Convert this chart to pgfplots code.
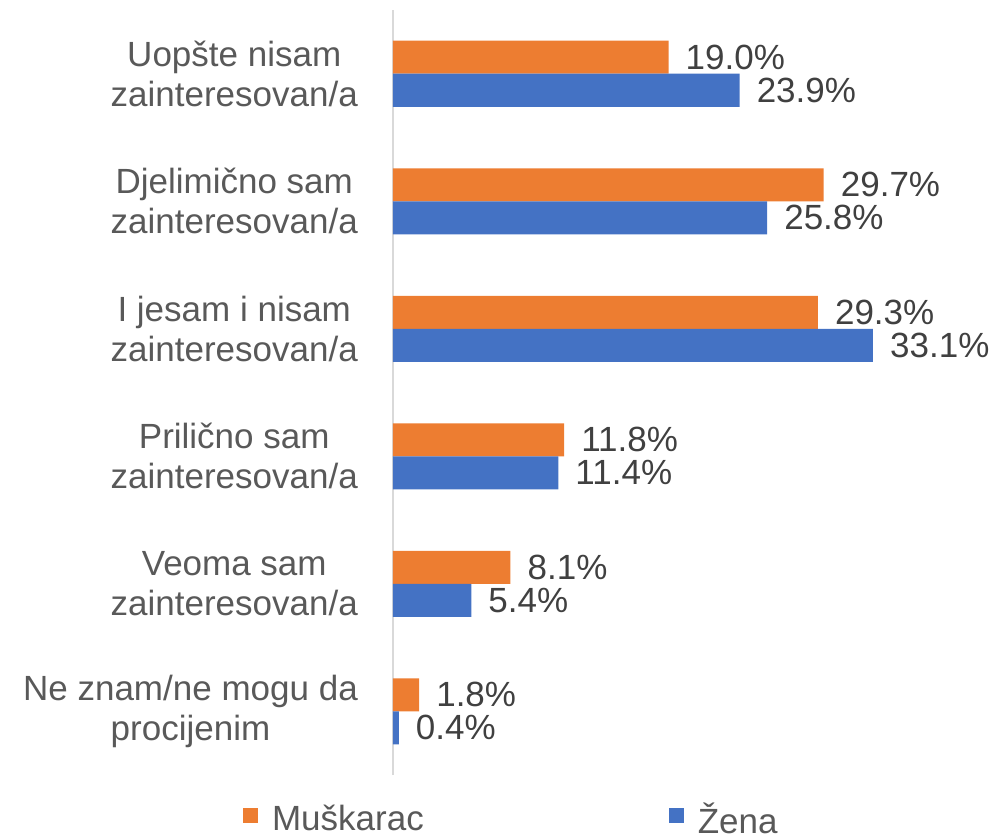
\documentclass[border=0pt]{standalone}
\usepackage{pgfplots}
\pgfplotsset{compat=1.18}
\usepackage{fontspec}
\setmainfont{Liberation Sans}
\definecolor{cOr}{HTML}{ED7D31}
\definecolor{cBl}{HTML}{4472C4}
\definecolor{cTx}{HTML}{595959}
\definecolor{cLb}{HTML}{404040}
\definecolor{cAx}{HTML}{D9D9D9}
\begin{document}
\begin{tikzpicture}
\begin{axis}[
  scale only axis,
  width=580pt, height=765pt,
  xmin=0, xmax=40,
  ymin=-0.5, ymax=5.5,
  xbar, bar width=33pt,
  axis x line=none,
  axis y line*=left,
  y axis line style={draw=cAx, line width=1.5pt, -},
  major tick length=0pt,
  ytick={0,1,2,3,4,5},
  yticklabels={{Ne znam/ne mogu da\\procijenim},{Veoma sam\\zainteresovan/a},{Prilično sam\\zainteresovan/a},{I jesam i nisam\\zainteresovan/a},{Djelimično sam\\zainteresovan/a},{Uopšte nisam\\zainteresovan/a}},
  yticklabel style={align=center, font=\fontsize{35}{40}\selectfont, text=cTx, inner sep=0pt, xshift=-35pt},
  /pgf/number format/assume math mode=true,
  nodes near coords={\pgfmathprintnumber[fixed,fixed zerofill,precision=1]{\pgfplotspointmeta}\%},
  nodes near coords style={font=\fontsize{35}{40}\selectfont, text=cLb, anchor=west, inner sep=0pt, xshift=17pt},
  legend style={at={(axis description cs:-0.264,-0.031)}, anchor=north west, draw=none, fill=none,
    font=\fontsize{35}{40}\selectfont, text=cTx, legend columns=2,
    /tikz/every odd column/.append style={column sep=12pt},
    /tikz/every even column/.append style={column sep=243pt}},
  legend image code/.code={\fill[#1] (0pt,-4pt) rectangle (15pt,11pt);},
  clip=false,
]
\addplot[draw=none, fill=cOr, bar shift=16.5pt] coordinates {(1.8,0) (8.1,1) (11.8,2) (29.3,3) (29.7,4) (19.0,5)};
\addlegendentry{Muškarac}
\addplot[draw=none, fill=cBl, bar shift=-16.5pt] coordinates {(0.4,0) (5.4,1) (11.4,2) (33.1,3) (25.8,4) (23.9,5)};
\addlegendentry{Žena}
\end{axis}
\pgfresetboundingbox
\path (-393pt,-64pt) rectangle (602pt,775pt);
\end{tikzpicture}
\end{document}
